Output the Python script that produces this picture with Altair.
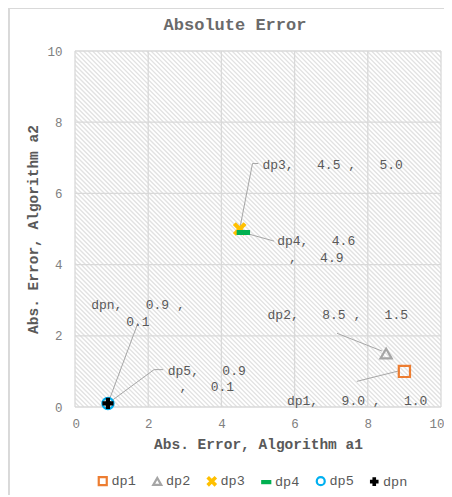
import altair as alt
import pandas as pd
import numpy as np

# ---- data -------------------------------------------------------------
chart_title = "Absolute Error"
series = ["dp1", "dp2", "dp3", "dp4", "dp5", "dpn"]
x_vals = [9.0, 8.5, 4.5, 4.6, 0.9, 0.9]
y_vals = [1.0, 1.5, 5.0, 4.9, 0.1, 0.1]
colors = ["#ED7D31", "#A5A5A5", "#FFC000", "#00B050", "#00B0F0", "#000000"]
fills = ["transparent", "transparent", "#FFC000", "#00B050", "transparent", "#000000"]
shapes = [
    "square",
    "triangle-up",
    "M-0.95,-0.7L-0.7,-0.95L0,-0.25L0.7,-0.95L0.95,-0.7L0.25,0L0.95,0.7L0.7,0.95L0,0.25L-0.7,0.95L-0.95,0.7L-0.25,0Z",
    "M-1,-0.25H1V0.25H-1Z",
    "circle",
    "M-0.18,-0.8H0.18V-0.18H0.8V0.18H0.18V0.8H-0.18V0.18H-0.8V-0.18H-0.18Z",
]

NB = "\u00a0"
label_text = [
    f"dp1,{NB*3}9.0{NB},{NB*3}1.0",
    f"dp2,{NB*3}8.5{NB},{NB*3}1.5",
    f"dp3,{NB*3}4.5{NB},{NB*3}5.0",
    f"dp4,{NB*3}4.6\n,{NB*3}4.9",
    f"dp5,{NB*3}0.9\n,{NB*3}0.1",
    f"dpn,{NB*3}0.9{NB},\n0.1",
]
label_x = [7.71, 7.18, 7.04, 6.59, 3.60, 1.72]
label_y = [0.17, 2.58, 6.79, 4.66, 1.02, 2.86]

# leader lines (annotation callouts)
leader_series = ["dp1", "dp1", "dp2", "dp2", "dp3", "dp3", "dp3", "dp4", "dp4",
                 "dp5", "dp5", "dp5", "dpn", "dpn"]
leader_order = [0, 1, 0, 1, 0, 1, 2, 0, 1, 0, 1, 2, 0, 1]
leader_x = [7.70, 8.87, 7.16, 8.39, 4.50, 4.85, 5.01, 4.60, 5.44, 0.90, 2.16, 2.41, 1.72, 0.90]
leader_y = [0.72, 1.02, 2.07, 1.57, 5.00, 6.84, 6.84, 4.90, 4.66, 0.10, 1.05, 1.05, 2.36, 0.10]

grid_ticks = [0, 2, 4, 6, 8, 10]

# ---- layout constants ------------------------------------------------
W, H = 366, 356
FONT = "Liberation Mono"
TXT = "#595959"
GRID = "#d9d9d9"

pts = pd.DataFrame({"series": series, "x": x_vals, "y": y_vals})
labs = pd.DataFrame({"series": series, "text": label_text, "lx": label_x, "ly": label_y})
lead = pd.DataFrame({"series": leader_series, "o": leader_order, "x": leader_x, "y": leader_y})
grid = pd.DataFrame({"t": grid_ticks})
title_df = pd.DataFrame({"title": [chart_title]})

# hatch texture of the plot area (decoration)
s = np.arange(-H, W + 1, 4.5)
hatch = pd.DataFrame({"hx": s / W * 10, "hx2": (s + H) / W * 10, "hy": 10.0, "hy2": 0.0})

xs = alt.Scale(domain=[0, 10], nice=False, zero=False)
ys = alt.Scale(domain=[0, 10], nice=False, zero=False)

x_axis = alt.Axis(
    values=grid_ticks, grid=False, domain=False, ticks=False,
    labelFlush=True, labelFlushOffset=3,
    labelPadding=10, labelFont=FONT, labelFontSize=12.5, labelColor="#808080",
    title="Abs. Error, Algorithm a1", titleFont=FONT, titleFontSize=14.5,
    titleFontWeight="bold", titleColor=TXT, titleY=37, titleBaseline="middle",
)
y_axis = alt.Axis(
    values=grid_ticks, grid=False, domain=False, ticks=False, labelFlush=False,
    labelPadding=13, labelFont=FONT, labelFontSize=12.5, labelColor="#808080",
    title="Abs. Error, Algorithm a2", titleFont=FONT, titleFontSize=14.5,
    titleFontWeight="bold", titleColor=TXT, titleX=-42, titleY=H / 2,
    titleBaseline="middle", titleAngle=-90,
)

hatch_layer = alt.Chart(hatch).mark_rule(clip=True, stroke="#e2e2e2", strokeWidth=1.3).encode(
    x=alt.X("hx:Q", scale=xs, axis=x_axis),
    x2="hx2:Q",
    y=alt.Y("hy:Q", scale=ys, axis=y_axis),
    y2="hy2:Q",
)

vgrid = alt.Chart(grid).mark_rule(stroke=GRID, strokeWidth=1.3).encode(
    x=alt.X("t:Q", scale=xs, axis=x_axis)
)
hgrid = alt.Chart(grid).mark_rule(stroke=GRID, strokeWidth=1.3).encode(
    y=alt.Y("t:Q", scale=ys, axis=y_axis)
)

leaders = alt.Chart(lead).mark_line(stroke="#a6a6a6", strokeWidth=1).encode(
    x=alt.X("x:Q", scale=xs, axis=x_axis),
    y=alt.Y("y:Q", scale=ys, axis=y_axis),
    detail="series:N",
    order="o:Q",
)

points = alt.Chart(pts).mark_point(size=125, strokeWidth=2.2, opacity=1).encode(
    x=alt.X("x:Q", scale=xs, axis=x_axis),
    y=alt.Y("y:Q", scale=ys, axis=y_axis),
    stroke=alt.Stroke("series:N", scale=alt.Scale(domain=series, range=colors), title=None),
    fill=alt.Fill("series:N", scale=alt.Scale(domain=series, range=fills), title=None),
    shape=alt.Shape("series:N", scale=alt.Scale(domain=series, range=shapes), title=None),
)

texts = alt.Chart(labs).mark_text(
    font=FONT, fontSize=13, color=TXT, align="center", baseline="middle",
    lineBreak="\n", lineHeight=16.5,
).encode(
    x=alt.X("lx:Q", scale=xs, axis=x_axis),
    y=alt.Y("ly:Q", scale=ys, axis=y_axis),
    text="text:N",
)

title_mark = alt.Chart(title_df).mark_text(
    font=FONT, fontSize=17, fontWeight="bold", color="#6a6a6a",
    align="center", baseline="alphabetic",
).encode(
    x=alt.value(W / 2 - 23), y=alt.value(-21), text="title:N"
)

border_left = alt.Chart(grid).mark_rule(stroke=GRID, strokeWidth=1).encode(
    x=alt.value(-66), y=alt.value(-43), y2=alt.value(H + 90)
)
border_top = alt.Chart(grid).mark_rule(stroke=GRID, strokeWidth=1).encode(
    x=alt.value(-66), x2=alt.value(W + 3), y=alt.value(-42.5)
)

chart = (
    alt.layer(hatch_layer, vgrid, hgrid, leaders, points, texts, title_mark,
              border_left, border_top)
    .properties(
        width=W,
        height=H,
        autosize=alt.AutoSizeParams(type="none"),
        padding={"left": 67, "top": 43, "right": 3, "bottom": 88},
    )
    .configure_view(stroke=None)
    .configure_legend(
        orient="none", legendX=21, legendY=423, direction="horizontal",
        padding=0, symbolSize=64, symbolStrokeWidth=2.2, labelFont=FONT,
        labelFontSize=13.5, labelColor=TXT, labelOffset=2, columnPadding=12.5,
        titlePadding=0,
    )
)

chart.save("out.html", embed_options={"renderer": "svg", "actions": False})
